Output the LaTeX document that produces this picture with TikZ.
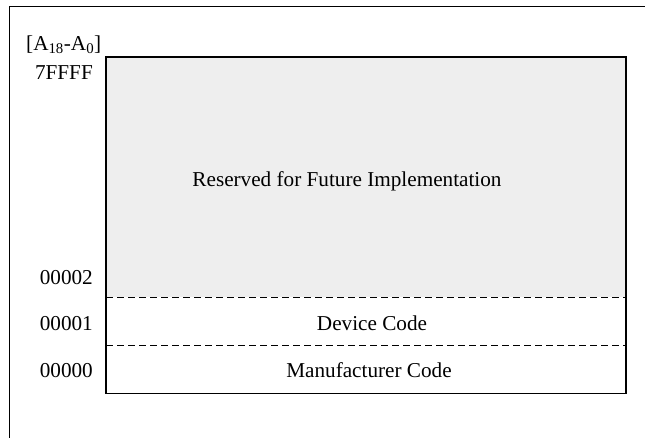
\documentclass[tikz,border=0pt]{standalone}
\usepackage{fontspec}
\setmainfont{Liberation Serif}
\definecolor{resgray}{RGB}{238,238,238}
\tikzset{
  lbl/.style={inner sep=0pt, font=\fontsize{21.2}{25}\selectfont},
  addr/.style={lbl, anchor=base east},
  divline/.style={line width=0.8pt, dash pattern=on 7pt off 4pt},
  frameline/.style={line width=1.4pt},
  boxline/.style={line width=1.2pt}
}
\begin{document}
\begin{tikzpicture}[x=1pt,y=-1pt]
\useasboundingbox (0,0) rectangle (645,438);
% outer frame (top and left edges)
\coordinate (fl) at (9.5,438);
\coordinate (fc) at (9.5,6.5);
\coordinate (fr) at (645,6.5);
\draw[frameline] (fl) -- (fc) -- (fr);
% memory box
\coordinate (bnw) at (106,57);
\coordinate (bse) at (626,393.5);
\coordinate (d1w) at (106,297);
\coordinate (d1e) at (626,297);
\coordinate (d2w) at (106,345.5);
\coordinate (d2e) at (626,345.5);
\fill[resgray] (bnw) rectangle (d1e);
\draw[divline] (d1w) -- (d1e);
\draw[divline] (d2w) -- (d2e);
\draw[boxline] (bnw) rectangle (bse);
% texts
\node[lbl, anchor=base west] (hdr) at (26,50.5) {[A\textsubscript{18}-A\textsubscript{0}]};
\node[addr] (a7) at (93,80) {7FFFF};
\node[addr] (a2) at (93,284) {00002};
\node[addr] (a1) at (93,330) {00001};
\node[addr] (a0) at (93,377) {00000};
\node[lbl, anchor=base] (res) at (347,187) {Reserved for Future Implementation};
\node[lbl, anchor=base] (dev) at (372,330) {Device Code};
\node[lbl, anchor=base] (man) at (369,377) {Manufacturer Code};
\end{tikzpicture}
\end{document}
